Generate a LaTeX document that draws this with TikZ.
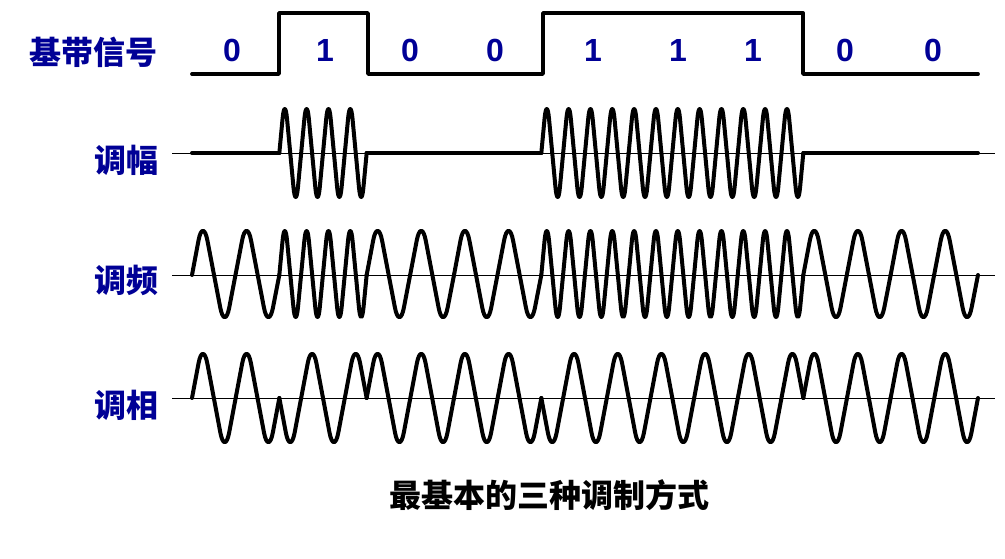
\documentclass[tikz,border=0pt]{standalone}
\usepackage{fontspec}
\setmainfont{Liberation Sans}
\newfontfamily\cjk{Noto Sans CJK SC}
\definecolor{navy}{RGB}{0,0,150}

\begin{document}
\begin{tikzpicture}[x=0.5pt,y=-0.5pt,
  lbl/.style={text=navy,font=\cjk\bfseries\fontsize{16}{18}\selectfont},
  bitlbl/.style={text=navy,font=\bfseries\fontsize{16}{18}\selectfont},
  sig/.style={line width=1.9pt,line cap=round,line join=round},
  wave/.style={sig,line width=2pt,rounded corners=12pt},
  axis/.style={line width=0.5pt}]
\useasboundingbox (0,0) rectangle (1005,558);
% labels
\node[lbl] (base) at (93,52)  {基带信号};
\node[lbl] (am)   at (126,160) {调幅};
\node[lbl] (fm)   at (126,280) {调频};
\node[lbl] (pm)   at (126,405) {调相};
\node[font=\cjk\bfseries\fontsize{16}{18}\selectfont] (title) at (549,495) {最基本的三种调制方式};
% axes
\draw[axis] (172,153) -- (995,153);
\draw[axis] (172,275) -- (995,275);
\draw[axis] (172,398) -- (995,398);
% baseband
\draw[sig] (192,74) -- (279,74) -- (279,13) -- (368,13) -- (368,74) -- (543,74)
  -- (543,13) -- (803,13) -- (803,74) -- (978,74);
\foreach \b/\x [count=\i from 0] in {0/232,1/325,0/410,0/495,1/593,1/678,1/753,0/845,0/933}
  \node[bitlbl] (bit\i) at (\x,50) {\b};
% carriers
\foreach \b [count=\i from 0] in {0,1,0,0,1,1,1,0,0}{
  \pgfmathsetmacro\a{192+\i*87.33}
  % AM: 4 cycles or flat
  \pgfmathsetmacro\p{87.33/4}
  \ifnum\b=1
    \draw[wave] (\a,153) \foreach \k in {0,...,3}{
      -- ({\a+(\k+0.25)*\p},95) -- ({\a+(\k+0.75)*\p},211) }
      -- ({\a+87.33},153);
  \else
    \draw[sig,line width=2pt] (\a,153) -- ({\a+87.33},153);
  \fi
  % FM: 2 or 4 cycles
  \pgfmathtruncatemacro\m{1+2*\b}
  \pgfmathsetmacro\r{87.33/(\m+1)}
  \draw[wave] (\a,275) \foreach \k in {0,...,\m}{
    -- ({\a+(\k+0.25)*\r},217) -- ({\a+(\k+0.75)*\r},331) }
    -- ({\a+87.33},275);
  % PM: phase 0 or 180
  \pgfmathsetmacro\q{87.33/2}
  \pgfmathsetmacro\s{1-2*\b}
  \draw[wave] (\a,398) \foreach \k in {0,1}{
    -- ({\a+(\k+0.25)*\q},{398-58*\s}) -- ({\a+(\k+0.75)*\q},{398+58*\s}) }
    -- ({\a+87.33},398);
}
\end{tikzpicture}
\end{document}
